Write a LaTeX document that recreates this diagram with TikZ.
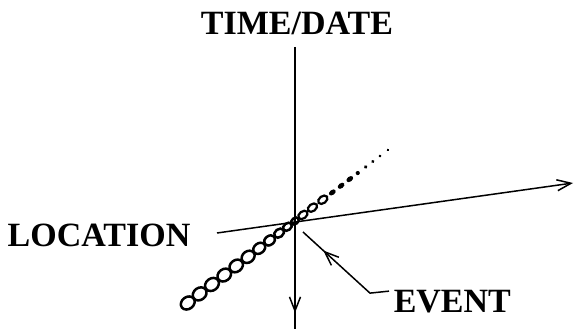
\documentclass[tikz,border=0pt]{standalone}
\usepackage{fontspec}
\setmainfont{Liberation Serif}
\usetikzlibrary{arrows.meta,decorations.markings}
\tikzset{axisbarb/.tip={Straight Barb[length=14pt,width=11pt]}}

\begin{document}
\begin{tikzpicture}[x=1pt,y=-1pt,line width=1.5pt,
  lbl/.style={font=\fontsize{34}{40}\selectfont\bfseries,inner sep=0pt},
  tipat/.style={postaction={decorate},
    decoration={markings,mark=at position #1 with {\arrow{axisbarb}}}},
  ring/.style={line width=2.5pt}]
  \useasboundingbox (0,0) rectangle (574,329);
  \coordinate (o) at (295,221);
  \coordinate (up) at (295,47);
  \coordinate (down) at (295,329);
  \coordinate (west) at (217,233);
  \coordinate (east) at (573,183);
  \coordinate (evhit) at (303,232);
  \node[lbl,anchor=base] (time) at (297,35) {TIME/DATE};
  \node[lbl,anchor=base west] (loc) at (7,246) {LOCATION};
  \node[lbl,anchor=base west] (ev) at (393,312) {EVENT};
  \draw[tipat=0.943] (up) -- (down);
  \draw[-axisbarb] (west) -- (east);
  \draw[tipat=0.75] ([xshift=-4pt,yshift=10pt]ev.west) -- ++(-19,2) -- (evhit);
  % the event, ringed before the crossing, dotted after it
  \begin{scope}[shift={(o)},rotate=37.4]
    \foreach \t/\a/\b in {135/7.4/6,120/7.4/6,104.5/7.4/6,89/7.3/5.9,
                          74/7.2/5.8,59/7/5.6,45/6.5/5,32/6/4.5,
                          20/5.4/4,9.5/4.8/3.5,0/4.2/3}
      \draw[ring] (-\t,0) ellipse[x radius=\a pt,y radius=\b pt];
    \foreach \t in {10,22,35}
      \draw[ring,line width=2.2pt] (\t,0) ellipse[x radius=5.2pt,y radius=3.5pt];
    \foreach \t in {47,58,69}
      \fill (\t,0) ellipse[x radius=3.8pt,y radius=2.5pt];
    \foreach \t/\r in {79/2.1,89/1.9,98/1.7,107/1.5,117/1.3}
      \fill (\t,0) circle[radius=\r pt];
  \end{scope}
\end{tikzpicture}
\end{document}
